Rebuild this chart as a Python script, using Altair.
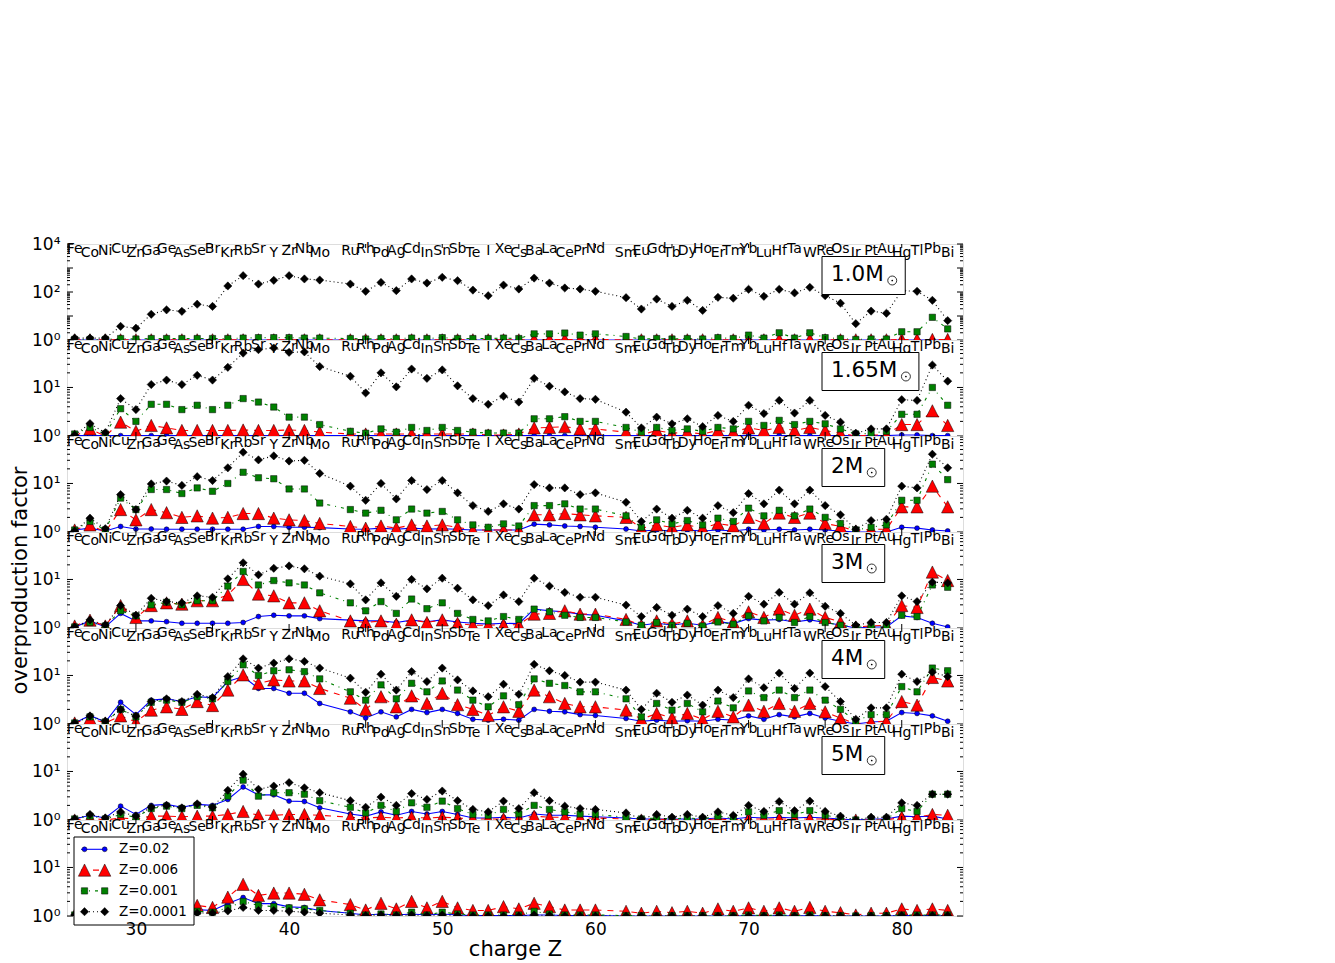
import altair as alt
import pandas as pd

FONT = "DejaVu Sans"
W, H = 896, 96
X_DOMAIN = [25.5, 84.0]

elements = ["Fe", "Co", "Ni", "Cu", "Zn", "Ga", "Ge", "As", "Se", "Br", "Kr", "Rb", "Sr", "Y", "Zr", "Nb", "Mo",
            "Ru", "Rh", "Pd", "Ag", "Cd", "In", "Sn", "Sb", "Te", "I",
            "Xe", "Cs", "Ba", "La", "Ce", "Pr", "Nd",
            "Sm", "Eu", "Gd", "Tb", "Dy", "Ho", "Er", "Tm", "Yb", "Lu",
            "Hf", "Ta", "W", "Re", "Os", "Ir", "Pt", "Au", "Hg", "Tl",
            "Pb", "Bi"]
charge = [26, 27, 28, 29, 30, 31, 32, 33, 34, 35, 36, 37, 38, 39, 40, 41, 42,
          44, 45, 46, 47, 48, 49, 50, 51, 52, 53,
          54, 55, 56, 57, 58, 59, 60,
          62, 63, 64, 65, 66, 67, 68, 69, 70, 71,
          72, 73, 74, 75, 76, 77, 78, 79, 80, 81,
          82, 83]

series_names = ["Z=0.02", "Z=0.006", "Z=0.001", "Z=0.0001"]
series_colors = ["#0000ff", "#ff0000", "#008000", "#000000"]
series_dash = [None, [6, 6], [3, 5, 1, 5], [1, 3]]
series_shape = ["circle", "M0,-1L1,1L-1,1Z", "square", "diamond"]
series_size = [24, 150, 40, 68]

# ---- 1.0 Msun ----
m1_z02 = [1.0, 1.0, 1.0, 1.0, 1.0, 1.0, 1.0, 1.0, 1.0, 1.0, 1.0, 1.0, 1.0, 1.0, 1.0, 1.0, 1.0,
          1.0, 1.0, 1.0, 1.0, 1.0, 1.0, 1.0, 1.0, 1.0, 1.0,
          1.0, 1.0, 1.0, 1.0, 1.0, 1.0, 1.0,
          1.0, 1.0, 1.0, 1.0, 1.0, 1.0, 1.0, 1.0, 1.0, 1.0,
          1.0, 1.0, 1.0, 1.0, 1.0, 1.0, 1.0, 1.0, 1.0, 1.0,
          1.0, 1.0]
m1_z006 = [1.02, 1.02, 1.02, 1.02, 1.02, 1.02, 1.02, 1.02, 1.02, 1.02, 1.02, 1.02, 1.02, 1.02, 1.02, 1.02, 1.02,
           1.02, 1.02, 1.02, 1.02, 1.02, 1.02, 1.02, 1.02, 1.02, 1.02,
           1.02, 1.02, 1.05, 1.05, 1.05, 1.05, 1.05,
           1.02, 1.02, 1.02, 1.02, 1.02, 1.02, 1.02, 1.02, 1.02, 1.02,
           1.05, 1.02, 1.05, 1.02, 1.02, 1.02, 1.02, 1.02, 1.05, 1.05,
           1.05, 1.05]
m1_z001 = [1.05, 1.05, 1.05, 1.15, 1.1, 1.15, 1.15, 1.15, 1.15, 1.15, 1.15, 1.2, 1.25, 1.25, 1.25, 1.2, 1.2,
           1.15, 1.1, 1.15, 1.15, 1.2, 1.15, 1.25, 1.15, 1.15, 1.15,
           1.2, 1.15, 1.8, 1.8, 1.95, 1.6, 1.8,
           1.4, 1.1, 1.15, 1.1, 1.15, 1.1, 1.25, 1.15, 1.6, 1.2,
           2.0, 1.2, 2.0, 1.25, 1.15, 1.05, 1.1, 1.1, 2.2, 2.2,
           8.8, 2.9]
m1_z0001 = [1.2, 1.2, 1.2, 3.7, 3.1, 11.8, 18, 15.6, 31, 25, 178, 480, 215, 307, 480, 350, 316,
            215, 107, 250, 114, 350, 237, 410, 296, 120, 70,
            195, 133, 380, 237, 147, 133, 107,
            58, 19.5, 51, 25, 45, 17, 60, 55, 130, 66,
            130, 91, 156, 70, 34, 4.8, 16, 13, 113, 107,
            45, 6.4]

# ---- 1.65 Msun ----
m165_z02 = [1.02, 1.02, 1.02, 1.02, 1.02, 1.02, 1.02, 1.02, 1.02, 1.02, 1.02, 1.02, 1.02, 1.02, 1.02, 1.02, 1.02,
            1.02, 1.02, 1.02, 1.02, 1.02, 1.02, 1.02, 1.02, 1.02, 1.02,
            1.02, 1.02, 1.02, 1.02, 1.02, 1.02, 1.02,
            1.02, 1.02, 1.02, 1.02, 1.02, 1.02, 1.02, 1.02, 1.02, 1.02,
            1.02, 1.02, 1.02, 1.02, 1.02, 1.02, 1.02, 1.02, 1.05, 1.05,
            1.02, 1.02]
m165_z006 = [1.0, 1.4, 1.0, 1.93, 1.25, 1.65, 1.47, 1.3, 1.3, 1.3, 1.3, 1.33, 1.3, 1.3, 1.33, 1.3, 1.2,
             1.1, 1.1, 1.1, 1.1, 1.1, 1.1, 1.1, 1.1, 1.1, 1.05,
             1.05, 1.1, 1.47, 1.5, 1.56, 1.4, 1.4,
             1.2, 1.05, 1.3, 1.14, 1.2, 1.1, 1.3, 1.2, 1.47, 1.3,
             1.5, 1.3, 1.5, 1.3, 1.14, 1.0, 1.05, 1.05, 1.72, 1.72,
             3.3, 1.65]
m165_z001 = [1.1, 1.5, 1.1, 3.65, 2.0, 4.5, 4.5, 3.5, 4.3, 3.5, 4.3, 5.9, 5.0, 3.95, 2.45, 2.45, 1.72,
             1.25, 1.14, 1.4, 1.2, 1.5, 1.3, 1.5, 1.3, 1.2, 1.15,
             1.15, 1.15, 2.26, 2.26, 2.5, 2.0, 2.0,
             1.5, 1.2, 1.5, 1.3, 1.4, 1.25, 1.5, 1.4, 2.0, 1.65,
             2.1, 1.72, 2.0, 1.78, 1.4, 1.1, 1.14, 1.25, 2.8, 2.8,
             10, 4.3]
m165_z0001 = [1.05, 1.8, 1.17, 5.9, 3.5, 11.5, 14.2, 11.5, 17.8, 14.2, 26, 51, 60, 65, 53, 54, 27,
              17, 7.7, 20, 10.3, 24, 15.4, 23, 10.8, 5.9, 4.5,
              6.6, 5.0, 15.4, 10.6, 8.1, 5.9, 5.7,
              3.1, 1.47, 2.45, 1.78, 2.26, 1.56, 2.65, 1.99, 4.3, 2.9,
              5.4, 2.97, 5.4, 2.65, 1.93, 1.14, 1.4, 1.4, 5.6, 5.4,
              29, 13.5]

# ---- 2 Msun ----
m2_z02 = [1.1, 1.2, 1.05, 1.3, 1.15, 1.15, 1.14, 1.14, 1.14, 1.14, 1.14, 1.14, 1.3, 1.3, 1.25, 1.25, 1.23,
          1.15, 1.14, 1.2, 1.14, 1.2, 1.15, 1.17, 1.14, 1.1, 1.1,
          1.1, 1.1, 1.45, 1.4, 1.33, 1.3, 1.25,
          1.15, 1.05, 1.1, 1.05, 1.1, 1.05, 1.1, 1.05, 1.14, 1.1,
          1.14, 1.1, 1.14, 1.1, 1.05, 1.0, 1.0, 1.0, 1.25, 1.2,
          1.1, 1.05]
m2_z006 = [1.1, 1.4, 1.0, 2.9, 1.78, 2.9, 2.5, 2.0, 2.15, 1.93, 2.0, 2.4, 2.4, 1.93, 1.78, 1.72, 1.5,
           1.3, 1.2, 1.33, 1.2, 1.4, 1.33, 1.4, 1.25, 1.1, 1.1,
           1.1, 1.1, 2.26, 2.26, 2.4, 2.26, 2.15,
           2.0, 1.2, 1.4, 1.25, 1.4, 1.2, 1.5, 1.33, 2.0, 1.5,
           2.45, 2.0, 2.45, 1.5, 1.3, 1.05, 1.14, 1.14, 3.3, 3.3,
           8.8, 3.3]
m2_z001 = [1.1, 1.65, 1.1, 5.0, 2.9, 7.5, 7.5, 6.2, 8.1, 6.9, 10, 17, 13.1, 12.5, 7.7, 7.7, 3.95,
           2.9, 2.45, 2.8, 1.78, 2.97, 2.45, 2.65, 1.78, 1.4, 1.25,
           1.47, 1.33, 3.5, 3.5, 3.8, 2.97, 2.97,
           2.15, 1.25, 1.78, 1.47, 1.72, 1.4, 1.93, 1.65, 3.1, 2.15,
           2.8, 2.15, 2.97, 2.0, 1.5, 1.1, 1.25, 1.4, 4.5, 4.5,
           25, 12]
m2_z0001 = [1.05, 1.93, 1.17, 5.9, 2.9, 9.8, 11.2, 9.1, 13.8, 11.5, 21, 44, 30.6, 37, 29, 30, 16.1,
            8.8, 4.5, 10, 4.8, 11.5, 7.5, 11.5, 6.4, 3.5, 2.65,
            3.8, 2.97, 9.5, 8.1, 8.1, 5.9, 6.4,
            4.1, 1.65, 2.97, 1.93, 2.8, 1.93, 3.5, 2.5, 6.2, 3.8,
            7.3, 3.8, 7.3, 3.5, 2.26, 1.14, 1.72, 1.83, 8.8, 8.1,
            40, 21]

# ---- 3 Msun ----
m3_z02 = [1.05, 1.4, 1.05, 2.0, 1.4, 1.4, 1.35, 1.25, 1.25, 1.25, 1.25, 1.3, 1.72, 1.83, 1.78, 1.78, 1.56,
          1.45, 1.4, 1.4, 1.3, 1.45, 1.35, 1.47, 1.33, 1.25, 1.2,
          1.25, 1.23, 2.45, 2.26, 2.15, 1.93, 1.83,
          1.4, 1.14, 1.25, 1.15, 1.25, 1.14, 1.35, 1.23, 1.56, 1.45,
          1.5, 1.33, 1.47, 1.3, 1.15, 1.0, 1.05, 1.05, 1.78, 1.65,
          1.25, 1.05]
m3_z006 = [1.1, 1.45, 1.1, 2.9, 1.65, 2.9, 3.3, 3.1, 3.65, 3.65, 4.8, 10, 5.0, 4.6, 3.3, 3.3, 2.26,
           1.4, 1.3, 1.4, 1.2, 1.47, 1.3, 1.47, 1.25, 1.14, 1.14,
           1.17, 1.17, 1.93, 2.0, 2.26, 1.93, 1.93,
           1.5, 1.14, 1.4, 1.2, 1.4, 1.14, 1.65, 1.33, 2.15, 1.65,
           2.45, 1.83, 2.45, 1.65, 1.33, 1.05, 1.1, 1.14, 2.9, 2.65,
           14.2, 9.5]
m3_z001 = [1.05, 1.3, 1.1, 2.26, 1.78, 3.0, 3.4, 3.0, 3.65, 3.65, 7.3, 14.6, 7.7, 9.5, 8.5, 7.7, 5.3,
           3.3, 2.26, 3.5, 2.0, 3.95, 2.5, 3.3, 2.0, 1.5, 1.4,
           1.72, 1.5, 2.45, 2.15, 1.83, 1.65, 1.65,
           1.33, 1.14, 1.3, 1.14, 1.25, 1.1, 1.33, 1.2, 1.78, 1.4,
           1.65, 1.3, 1.72, 1.3, 1.14, 1.05, 1.05, 1.1, 1.83, 1.72,
           7.7, 6.9]
m3_z0001 = [1.05, 1.47, 1.15, 2.9, 1.83, 4.1, 3.5, 3.3, 4.6, 4.3, 10.3, 22, 12.5, 17, 19, 16.6, 11.7,
            8.1, 3.8, 8.5, 4.5, 10, 6.4, 10.6, 6.6, 3.8, 2.9,
            4.8, 3.5, 10.6, 7.3, 5.4, 4.3, 4.3,
            2.97, 1.72, 2.65, 1.83, 2.45, 1.72, 2.9, 2.0, 4.5, 3.1,
            5.4, 3.1, 5.3, 2.8, 2.0, 1.14, 1.3, 1.3, 4.6, 3.5,
            8.8, 8.5]

# ---- 4 Msun ----
m4_z02 = [1.05, 1.5, 1.1, 2.8, 1.56, 3.1, 3.3, 2.9, 3.65, 3.5, 7.5, 9.5, 5.4, 5.4, 4.3, 4.3, 2.65,
          1.78, 1.33, 1.78, 1.4, 2.0, 1.72, 2.0, 1.65, 1.25, 1.2,
          1.25, 1.2, 2.0, 1.83, 1.78, 1.56, 1.5,
          1.3, 1.14, 1.2, 1.14, 1.17, 1.14, 1.25, 1.2, 1.47, 1.25,
          1.56, 1.4, 1.65, 1.33, 1.14, 1.0, 1.1, 1.14, 1.72, 1.65,
          1.47, 1.14]
m4_z006 = [1.05, 1.3, 1.05, 1.47, 1.1, 1.93, 2.26, 2.0, 2.9, 2.4, 5.0, 10.3, 6.9, 8.1, 7.7, 7.7, 5.4,
           3.4, 2.0, 3.65, 2.26, 3.8, 2.65, 4.3, 2.5, 2.0, 1.5,
           2.26, 1.83, 5.0, 3.65, 2.65, 2.26, 2.26,
           1.93, 1.25, 1.65, 1.33, 1.65, 1.25, 1.83, 1.4, 2.45, 1.83,
           2.65, 1.83, 2.65, 1.78, 1.33, 1.0, 1.1, 1.14, 2.9, 2.45,
           9.1, 7.7]
m4_z001 = [1.05, 1.4, 1.1, 2.0, 1.4, 2.8, 3.1, 2.8, 3.65, 3.3, 7.5, 16.6, 10, 12.5, 13.1, 12, 8.5,
           4.6, 3.1, 6.4, 3.3, 6.9, 4.6, 7.7, 5.0, 3.1, 2.26,
           3.8, 2.5, 8.5, 6.9, 6.2, 4.6, 4.6,
           3.3, 1.4, 2.65, 1.93, 2.65, 1.78, 2.97, 2.15, 4.8, 3.5,
           5.0, 3.5, 5.0, 3.1, 2.0, 1.14, 1.56, 1.56, 5.9, 4.6,
           14.2, 12.5]
m4_z0001 = [1.05, 1.47, 1.14, 2.0, 1.45, 2.9, 3.3, 2.9, 4.1, 3.5, 9.5, 22, 14.2, 18, 22, 19.5, 14.2,
            8.8, 4.5, 10.6, 5.0, 12, 7.5, 14.2, 8.1, 4.8, 3.65,
            6.6, 4.1, 17, 12.5, 10, 7.3, 7.3,
            5.0, 2.0, 4.3, 2.8, 3.95, 2.45, 5.0, 3.5, 8.5, 5.6,
            11.2, 5.4, 11.2, 5.9, 2.9, 1.25, 2.15, 2.15, 10.6, 7.5,
            11.7, 9.5]

# ---- 5 Msun ----
m5_z02 = [1.05, 1.25, 1.1, 1.93, 1.3, 2.0, 2.1, 1.83, 2.1, 2.0, 2.65, 4.8, 3.3, 3.3, 2.45, 2.4, 1.78,
          1.33, 1.2, 1.47, 1.25, 1.5, 1.33, 1.5, 1.3, 1.1, 1.1,
          1.14, 1.1, 1.33, 1.25, 1.25, 1.2, 1.17,
          1.1, 1.05, 1.05, 1.05, 1.05, 1.05, 1.1, 1.05, 1.14, 1.1,
          1.14, 1.1, 1.14, 1.1, 1.05, 1.0, 1.05, 1.05, 1.2, 1.17,
          1.2, 1.05]
m5_z006 = [1.0, 1.1, 1.0, 1.1, 1.05, 1.2, 1.2, 1.17, 1.2, 1.2, 1.3, 1.5, 1.25, 1.25, 1.3, 1.3, 1.25,
           1.14, 1.1, 1.14, 1.1, 1.14, 1.1, 1.14, 1.1, 1.05, 1.05,
           1.05, 1.05, 1.2, 1.14, 1.14, 1.1, 1.1,
           1.05, 1.0, 1.05, 1.0, 1.05, 1.0, 1.05, 1.0, 1.05, 1.05,
           1.05, 1.05, 1.05, 1.05, 1.0, 1.0, 1.0, 1.0, 1.14, 1.14,
           1.3, 1.25]
m5_z001 = [1.05, 1.2, 1.05, 1.3, 1.14, 1.72, 1.93, 1.72, 2.0, 1.78, 3.1, 6.6, 3.1, 3.65, 3.65, 3.4, 2.5,
           1.83, 1.4, 2.0, 1.5, 2.26, 1.83, 2.45, 1.72, 1.3, 1.25,
           1.65, 1.33, 2.0, 1.65, 1.47, 1.33, 1.3,
           1.14, 1.05, 1.1, 1.05, 1.1, 1.05, 1.2, 1.1, 1.47, 1.25,
           1.56, 1.3, 1.56, 1.25, 1.1, 1.0, 1.05, 1.05, 1.72, 1.5,
           3.4, 3.4]
m5_z0001 = [1.05, 1.3, 1.1, 1.47, 1.2, 1.83, 2.0, 1.78, 2.15, 1.83, 4.1, 8.8, 4.3, 5.0, 5.9, 4.6, 3.65,
            2.5, 1.83, 2.97, 2.0, 3.5, 2.65, 3.95, 2.5, 1.65, 1.47,
            2.45, 1.72, 3.65, 2.5, 1.93, 1.72, 1.65,
            1.4, 1.05, 1.3, 1.14, 1.3, 1.14, 1.47, 1.25, 2.0, 1.5,
            2.4, 1.56, 2.45, 1.5, 1.2, 1.0, 1.14, 1.14, 2.26, 2.0,
            3.4, 3.4]

# ---- bottom panel ----
m7_z02 = [1.05, 1.2, 1.05, 1.4, 1.15, 1.4, 1.4, 1.3, 1.35, 1.3, 1.8, 2.4, 1.8, 1.8, 1.54, 1.5, 1.3,
          1.14, 1.05, 1.1, 1.05, 1.1, 1.05, 1.1, 1.05, 1.02, 1.02,
          1.02, 1.02, 1.05, 1.05, 1.02, 1.02, 1.02,
          1.0, 1.0, 1.0, 1.0, 1.0, 1.0, 1.0, 1.0, 1.02, 1.0,
          1.02, 1.0, 1.02, 1.0, 1.0, 1.0, 1.0, 1.0, 1.02, 1.02,
          1.02, 1.0]
m7_z006 = [1.05, 1.3, 1.05, 1.6, 1.2, 1.6, 1.7, 1.5, 1.65, 1.5, 2.45, 4.5, 2.65, 2.97, 2.97, 2.8, 2.15,
           1.72, 1.33, 1.83, 1.4, 2.0, 1.47, 2.0, 1.47, 1.3, 1.3,
           1.56, 1.4, 1.83, 1.56, 1.33, 1.33, 1.33,
           1.25, 1.14, 1.25, 1.17, 1.25, 1.14, 1.4, 1.25, 1.47, 1.25,
           1.47, 1.25, 1.5, 1.25, 1.17, 1.05, 1.14, 1.14, 1.4, 1.3,
           1.4, 1.3]
m7_z001 = [1.05, 1.1, 1.05, 1.2, 1.1, 1.2, 1.25, 1.2, 1.25, 1.2, 1.47, 2.0, 1.65, 1.56, 1.47, 1.4, 1.3,
           1.14, 1.05, 1.1, 1.05, 1.2, 1.05, 1.2, 1.1, 1.05, 1.05,
           1.05, 1.05, 1.25, 1.1, 1.05, 1.05, 1.05,
           1.02, 1.02, 1.02, 1.02, 1.02, 1.02, 1.02, 1.02, 1.05, 1.02,
           1.05, 1.02, 1.05, 1.02, 1.02, 1.0, 1.02, 1.02, 1.05, 1.05,
           1.05, 1.05]
m7_z0001 = [1.05, 1.05, 1.05, 1.1, 1.05, 1.1, 1.1, 1.1, 1.15, 1.15, 1.27, 1.5, 1.3, 1.3, 1.25, 1.2, 1.14,
            1.05, 1.02, 1.05, 1.02, 1.05, 1.02, 1.05, 1.02, 1.0, 1.0,
            1.0, 1.0, 1.05, 1.02, 1.0, 1.0, 1.0,
            1.0, 1.0, 1.0, 1.0, 1.0, 1.0, 1.0, 1.0, 1.0, 1.0,
            1.0, 1.0, 1.0, 1.0, 1.0, 1.0, 1.0, 1.0, 1.02, 1.0,
            1.02, 1.02]

panel_labels = ["1.0M", "1.65M", "2M", "3M", "4M", "5M", ""]
panel_ymax = [10000, 95, 95, 95, 95, 95, 95]
panel_yticks = [[1, 100, 10000], [1, 10], [1, 10], [1, 10], [1, 10], [1, 10], [1, 10]]
panel_series = [
    [m1_z02, m1_z006, m1_z001, m1_z0001],
    [m165_z02, m165_z006, m165_z001, m165_z0001],
    [m2_z02, m2_z006, m2_z001, m2_z0001],
    [m3_z02, m3_z006, m3_z001, m3_z0001],
    [m4_z02, m4_z006, m4_z001, m4_z0001],
    [m5_z02, m5_z006, m5_z001, m5_z0001],
    [m7_z02, m7_z006, m7_z001, m7_z0001],
]
x_tick_values = [30, 35, 40, 45, 50, 55, 60, 65, 70, 75, 80]
x_label_values = [30, 40, 50, 60, 70, 80]

LABEL_EXPR = ("datum.value == 1 ? '10\u2070' : datum.value == 10 ? '10\u00b9' : "
              "datum.value == 100 ? '10\u00b2' : datum.value == 1000 ? '10\u00b3' : '10\u2074'")

CHAR_W = {"0": 0.636, "1": 0.636, "2": 0.636, "3": 0.636, "4": 0.636, "5": 0.636,
          "6": 0.636, ".": 0.318, "M": 0.863}
BOX_FONT = 21.5
# element label rows: index % 3 -> baseline offset from the panel top (px)
LABEL_ROW_BASELINE = {0: 9.3, 1: 13.3, 2: 11.3}


def text_width(s, size):
    return sum(CHAR_W.get(c, 0.6) for c in s) * size


def minor_ticks(ymax):
    out = []
    dec = 1
    while dec < ymax:
        for k in range(2, 10):
            if k * dec < ymax:
                out.append(k * dec)
        dec *= 10
    return out


def one_row():
    return pd.DataFrame({"a": [0]})


def make_panel(i):
    ymax = panel_ymax[i]
    bottom = i == len(panel_labels) - 1
    xs = alt.Scale(domain=X_DOMAIN, nice=False, zero=False)
    ys = alt.Scale(type="log", domain=[1, ymax], nice=False)
    if bottom:
        xax = alt.Axis(values=x_label_values, ticks=False, domain=False, grid=False,
                       labelFont=FONT, labelFontSize=17, labelPadding=5, labelFlush=False,
                       labelColor="black", format="d", zindex=2,
                       title="charge Z", titleFont=FONT, titleFontSize=21,
                       titleFontWeight="normal", titlePadding=1, titleColor="black")
    else:
        xax = None
    yax = alt.Axis(values=panel_yticks[i], labelExpr=LABEL_EXPR, ticks=False, domain=False,
                   grid=False, labelFont=FONT, labelFontSize=17, labelPadding=7,
                   labelColor="black",
                   title=("overproduction factor" if i == 3 else None),
                   titleFont=FONT, titleFontSize=21, titleFontWeight="normal",
                   titlePadding=1, titleColor="black")

    def X(f):
        return alt.X(f, type="quantitative", scale=xs, axis=xax)

    def Y(f):
        return alt.Y(f, type="quantitative", scale=ys, axis=yax)

    layers = []
    # data series
    for s in range(4):
        df = pd.DataFrame({"Z": charge, "v": panel_series[i][s]})
        line_kw = dict(color=series_colors[s], strokeWidth=1.1, clip=True)
        if series_dash[s] is not None:
            line_kw["strokeDash"] = series_dash[s]
        layers.append(alt.Chart(df).mark_line(**line_kw).encode(x=X("Z"), y=Y("v")))
        layers.append(alt.Chart(df).mark_point(shape=series_shape[s], size=series_size[s],
                                               filled=True, fill=series_colors[s],
                                               stroke="black", strokeWidth=0.5,
                                               opacity=1, clip=True)
                      .encode(x=X("Z"), y=Y("v")))

    # element labels (three staggered rows)
    lab_df = pd.DataFrame({"Z": charge, "el": elements,
                           "lvl": [k % 3 for k in range(len(elements))]})
    for k in range(3):
        layers.append(alt.Chart(lab_df).transform_filter(alt.datum.lvl == k)
                      .mark_text(font=FONT, fontSize=14, align="center",
                                 baseline="alphabetic", color="black")
                      .encode(x=X("Z"), y=alt.value(LABEL_ROW_BASELINE[k]), text="el:N"))

    # inward ticks
    maj_df = pd.DataFrame({"t": [v for v in [1, 10, 100, 1000, 10000] if v <= ymax]})
    min_df = pd.DataFrame({"t": minor_ticks(ymax)})
    for df, L in [(maj_df, 6), (min_df, 3)]:
        layers.append(alt.Chart(df).mark_rule(color="black", strokeWidth=1)
                      .encode(y=Y("t"), x=alt.value(0), x2=alt.value(L)))
        layers.append(alt.Chart(df).mark_rule(color="black", strokeWidth=1)
                      .encode(y=Y("t"), x=alt.value(W - L), x2=alt.value(W)))
    xt_df = pd.DataFrame({"Z": x_tick_values})
    layers.append(alt.Chart(xt_df).mark_rule(color="black", strokeWidth=1)
                  .encode(x=X("Z"), y=alt.value(0), y2=alt.value(4)))
    layers.append(alt.Chart(xt_df).mark_rule(color="black", strokeWidth=1)
                  .encode(x=X("Z"), y=alt.value(H - 4), y2=alt.value(H)))

    # mass label box
    lab = panel_labels[i]
    if lab:
        tx = 764
        tw = text_width(lab, BOX_FONT)
        sx = tx + tw + 8.5
        bx1 = sx + 5 + 8
        layers.append(alt.Chart(one_row()).mark_rect(fill="white", stroke="black", strokeWidth=1)
                      .encode(x=alt.value(755), x2=alt.value(bx1), y=alt.value(12.5), y2=alt.value(50.5)))
        layers.append(alt.Chart(one_row()).mark_text(text=lab, font=FONT, fontSize=BOX_FONT,
                                                     align="left", baseline="alphabetic",
                                                     color="black")
                      .encode(x=alt.value(tx), y=alt.value(37)))
        layers.append(alt.Chart(one_row()).mark_point(shape="circle", filled=False, color="black",
                                                      strokeWidth=0.8, size=80, opacity=1)
                      .encode(x=alt.value(sx), y=alt.value(36.5)))
        layers.append(alt.Chart(one_row()).mark_point(shape="circle", filled=True, color="black",
                                                      size=3, opacity=1)
                      .encode(x=alt.value(sx), y=alt.value(36.5)))

    # legend in bottom panel
    if bottom:
        layers.append(alt.Chart(one_row()).mark_rect(fill="white", stroke="black", strokeWidth=1)
                      .encode(x=alt.value(7), x2=alt.value(127), y=alt.value(17), y2=alt.value(105)))
        for s in range(4):
            ry = 29.3 + 20.8 * s
            rule_kw = dict(color=series_colors[s], strokeWidth=1.1)
            if series_dash[s] is not None:
                rule_kw["strokeDash"] = series_dash[s]
            layers.append(alt.Chart(one_row()).mark_rule(**rule_kw)
                          .encode(x=alt.value(14), x2=alt.value(39), y=alt.value(ry)))
            for mx in [17.5, 37.7]:
                layers.append(alt.Chart(one_row()).mark_point(shape=series_shape[s],
                                                              size=series_size[s], filled=True,
                                                              fill=series_colors[s], stroke="black",
                                                              strokeWidth=0.5, opacity=1)
                              .encode(x=alt.value(mx), y=alt.value(ry)))
            layers.append(alt.Chart(one_row()).mark_text(text=series_names[s], font=FONT,
                                                         fontSize=13.5, align="left",
                                                         baseline="middle", color="black")
                          .encode(x=alt.value(52), y=alt.value(ry)))

    return alt.layer(*layers).properties(width=W, height=H)


panels = [make_panel(i) for i in range(len(panel_labels))]

chart = (alt.vconcat(*panels, spacing=0, bounds="flush")
         .properties(padding={"left": 1, "top": 226, "right": 5, "bottom": 5},
                     background="white")
         .configure_view(stroke="black", strokeWidth=1)
         .configure(font=FONT))

chart.save("out.html", embed_options={"renderer": "svg", "actions": False})
